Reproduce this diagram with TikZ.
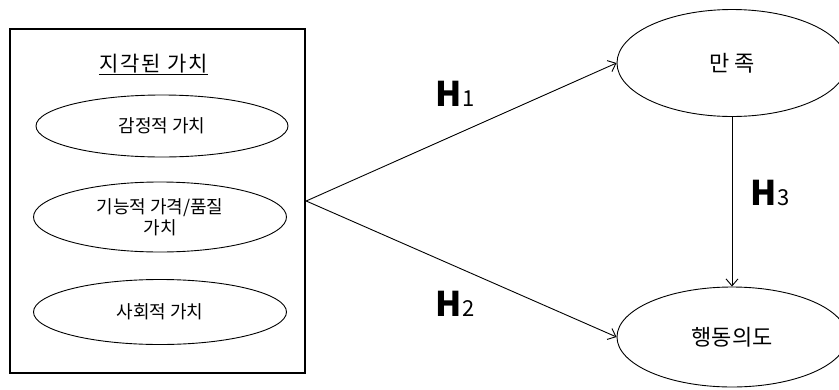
\documentclass[tikz,border=0pt]{standalone}
\usepackage{fontspec}
\setmainfont{Noto Sans CJK KR}
\usetikzlibrary{shapes.geometric,arrows.meta}
\begin{document}
\begin{tikzpicture}[x=1pt,y=-1pt,
  oval/.style={draw, ellipse, line width=0.9pt, inner sep=0pt, align=center,
               font=\fontsize{18}{21}\selectfont},
  bigoval/.style={oval, font=\fontsize{22}{26}\selectfont},
  link/.style={line width=0.9pt, -{Straight Barb[length=7pt,width=12pt]}},
  hyp/.style={font=\fontsize{34}{34}\selectfont\bfseries, inner sep=0pt}]
\clip (0,0) rectangle (839,389);
\fill[white] (0,0) rectangle (839,389);
% left group box
\node[draw, line width=2.4pt, minimum width=295pt, minimum height=344pt, inner sep=0pt] (box) at (157.5,201) {};
\node[inner sep=0pt, font=\fontsize{21}{21}\selectfont\addfontfeature{LetterSpace=8}] (title) at (154,64) {지각된 가치};
\draw[line width=1.3pt] ([xshift=-1pt,yshift=-1pt]title.south west) -- ([yshift=-1pt]title.south east);
\node[oval, minimum width=252pt, minimum height=62pt] (e1) at (162,126) {감정적 가치};
\node[oval, minimum width=253pt, minimum height=70pt] (e2) at (160,217) {기능적 가격/품질\\가치};
\node[oval, minimum width=253pt, minimum height=65pt] (e3) at (160,312) {사회적 가치};
% right
\node[bigoval, minimum width=230pt, minimum height=107pt] (sat) at (732,63) {만 족};
\node[bigoval, minimum width=230pt, minimum height=100pt] (bi) at (732,337) {행동의도};
% connectors
\draw[link] (box.east) -- (sat.west);
\draw[link] (box.east) -- (bi.west);
\draw[link] (sat.south) -- (bi.north);
% labels
\node[hyp] (h1) at (455,94) {H{\fontsize{22}{22}\selectfont\mdseries 1}};
\node[hyp] (h2) at (455,304) {H{\fontsize{22}{22}\selectfont\mdseries 2}};
\node[hyp] (h3) at (770,193) {H{\fontsize{22}{22}\selectfont\mdseries 3}};
\end{tikzpicture}
\end{document}
